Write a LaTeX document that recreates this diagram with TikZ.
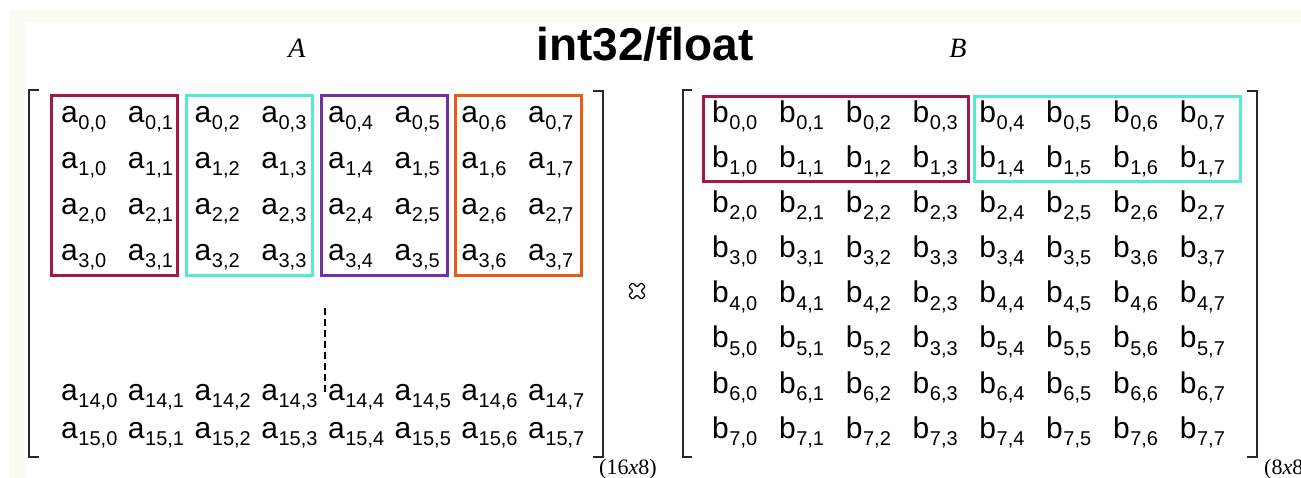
\documentclass[tikz,border=0pt]{standalone}
\usepackage{fontspec}
\setmainfont{Liberation Sans}
\newfontfamily\serf{Liberation Serif}
\definecolor{boxred}{RGB}{163,24,68}
\definecolor{boxcyan}{RGB}{84,234,212}
\definecolor{boxpurple}{RGB}{112,48,160}
\definecolor{boxorange}{RGB}{228,92,22}
\definecolor{offwhite}{RGB}{250,250,246}
\definecolor{brk}{RGB}{40,40,40}
% matrix entry: letter with a lowered index
\newcommand\entry[2]{#1\kern0.6pt\raisebox{-7pt}{\fontsize{20}{20}\selectfont #2}}
\begin{document}
\begin{tikzpicture}[x=1pt,y=-1pt,
  el/.style={anchor=base west,inner sep=0pt,font=\fontsize{30}{30}\selectfont},
  grp/.style={line width=3pt},
  bracket/.style={draw=brk,line width=1.4pt},
  dim/.style={anchor=base west,inner sep=0pt,font=\serf\fontsize{22}{22}\selectfont}]
\useasboundingbox (0,0) rectangle (1301,478);
% page backdrop
\fill[offwhite] (9,10) rectangle (1301,478);
\fill[white] (25,23) rectangle (1301,478);

% title and matrix names
\node[anchor=base,inner sep=0pt,font=\bfseries\fontsize{46}{46}\selectfont] (title) at (645,61) {int32/float};
\node[anchor=base,inner sep=0pt,font=\serf\itshape\fontsize{28}{28}\selectfont] (nameA) at (297,58) {A};
\node[anchor=base,inner sep=0pt,font=\serf\itshape\fontsize{28}{28}\selectfont] (nameB) at (958,58) {B};

% ---------- matrix A (16x8) ----------
\foreach \r in {0,...,3}
  \foreach \c in {0,...,7}
    \node[el] (a-\r-\c) at ({61+66.7*\c},{123+45.7*\r}) {\entry{a}{\r,\c}};
\foreach \c in {0,...,7}{
  \node[el] (a-14-\c) at ({61+66.7*\c},400) {\entry{a}{14,\c}};
  \node[el] (a-15-\c) at ({61+66.7*\c},438) {\entry{a}{15,\c}};
}
\draw[grp,boxred]    (51,96)  rectangle (177,276);
\draw[grp,boxcyan]   (186,96) rectangle (312,276);
\draw[grp,boxpurple] (321,96) rectangle (447,276);
\draw[grp,boxorange] (455,96) rectangle (581,276);
\coordinate (dtop) at (325,308);
\coordinate (dbot) at (325,394);
\draw[line width=1.2pt,dash pattern=on 7pt off 4pt] (dtop) -- (dbot);
\draw[bracket] (39,90) -- (29,90) -- (29,457) -- (39,457);
\draw[bracket] (593,91) -- (603,91) -- (603,457) -- (593,457);
\node[dim] (dimA) at (599,474) {(16\textit{x}8)};

% product sign
\begin{scope}[shift={(637,291)},rotate=45]
  \draw[line width=1.3pt,rounded corners=1.2pt]
    (2.8,2.8) -- (9,2.8) -- (9,-2.8) -- (2.8,-2.8) -- (2.8,-9) -- (-2.8,-9)
    -- (-2.8,-2.8) -- (-9,-2.8) -- (-9,2.8) -- (-2.8,2.8) -- (-2.8,9) -- (2.8,9) -- cycle;
\end{scope}

% ---------- matrix B (8x8) ----------
\foreach \r in {0,...,7}
  \foreach \c in {0,1,2,4,5,6,7}
    \node[el] (b-\r-\c) at ({712+66.8*\c},{123+45*\r}) {\entry{b}{\r,\c}};
\foreach \r/\lab in {0/0,1/1,2/2,3/3,4/2,5/3,6/6,7/7}
  \node[el] (b-\r-3) at ({712+66.8*3},{123+45*\r}) {\entry{b}{\lab,3}};
\draw[grp,boxred]  (703,97) rectangle (968,182);
\draw[grp,boxcyan] (974,97) rectangle (1240,182);
\draw[bracket] (692,90) -- (683,90) -- (683,457) -- (692,457);
\draw[bracket] (1247,91) -- (1257,91) -- (1257,457) -- (1247,457);
\node[dim] (dimB) at (1264,474) {(8\textit{x}8)};
\end{tikzpicture}
\end{document}
